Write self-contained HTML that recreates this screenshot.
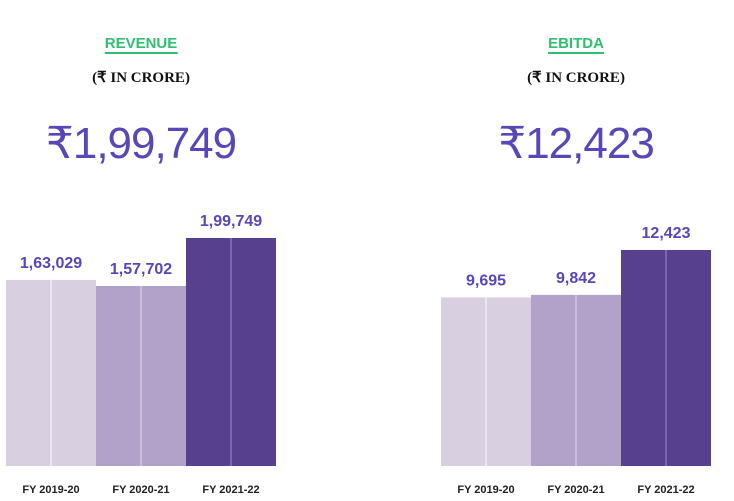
<!DOCTYPE html>
<html><head><meta charset="utf-8"><style>
body{margin:0;width:734px;height:501px;background:#fff;overflow:hidden;font-family:"Liberation Sans",sans-serif}
.t{position:absolute;white-space:nowrap;transform:translateX(-50%)}
.title{font-weight:bold;color:#2fbf71;font-size:15px;border-bottom:2px solid #2fbf71;line-height:17px}
.unit{font-family:"Liberation Serif",serif;font-weight:bold;font-size:15px;color:#111}
.big{font-size:44px;color:#5a46b8;letter-spacing:-1px}
</style></head><body>
<div class="t title" style="left:141px;top:35px">REVENUE</div>
<div class="t unit" style="left:141px;top:68px">(₹ IN CRORE)</div>
<div class="t big" style="left:141px;top:118px">₹1,99,749</div>
<div class="t title" style="left:576px;top:35px">EBITDA</div>
<div class="t unit" style="left:576px;top:68px">(₹ IN CRORE)</div>
<div class="t big" style="left:576px;top:118px">₹12,423</div>
<svg id="c" width="734" height="501" style="position:absolute;left:0;top:0"></svg>
<script>
const categories=["FY 2019-20","FY 2020-21","FY 2021-22"];
const revenueValues=[163029,157702,199749];
const revenueLabels=["1,63,029","1,57,702","1,99,749"];
const ebitdaValues=[9695,9842,12423];
const ebitdaLabels=["9,695","9,842","12,423"];
const colors=["#d8d0e1","#b1a2c9","#57418f"];
const mids=["#ebe6f0","#c9bedb","#7d68b0"];
const svg=document.getElementById('c');
const NS='http://www.w3.org/2000/svg';
function chart(x0,vals,labels,prefix,maxH){
  const max=Math.max(...vals);const base=466;const w=90;
  const y=v=>base-v/max*maxH;
  vals.forEach((v,i)=>{
    const x=x0+i*w;
    const r=document.createElementNS(NS,'rect');
    r.setAttribute('x',x);r.setAttribute('y',y(v));r.setAttribute('width',w);r.setAttribute('height',base-y(v));r.setAttribute('fill',colors[i]);
    
    
    svg.appendChild(r);
    const l=document.createElementNS(NS,'rect');
    l.setAttribute('x',x+w/2-1);l.setAttribute('y',y(v));l.setAttribute('width',2);l.setAttribute('height',base-y(v));l.setAttribute('fill',mids[i]);
    
    
    svg.appendChild(l);
    const t=document.createElementNS(NS,'text');
    t.setAttribute('x',x+w/2);t.setAttribute('y',y(v)-12);t.setAttribute('text-anchor','middle');
    t.setAttribute('font-size','16');t.setAttribute('font-weight','bold');t.setAttribute('fill','#5a46b8');
    t.textContent=labels[i];
    
    
    svg.appendChild(t);
    const c=document.createElementNS(NS,'text');
    c.setAttribute('x',x+w/2);c.setAttribute('y',493);c.setAttribute('text-anchor','middle');
    c.setAttribute('font-size','11');c.setAttribute('font-weight','bold');c.setAttribute('fill','#222');
    c.textContent=categories[i];
    
    
    svg.appendChild(c);
  });
}
chart(6,revenueValues,revenueLabels,'revenue',228);
chart(441,ebitdaValues,ebitdaLabels,'ebitda',216);
</script>
</body></html>
